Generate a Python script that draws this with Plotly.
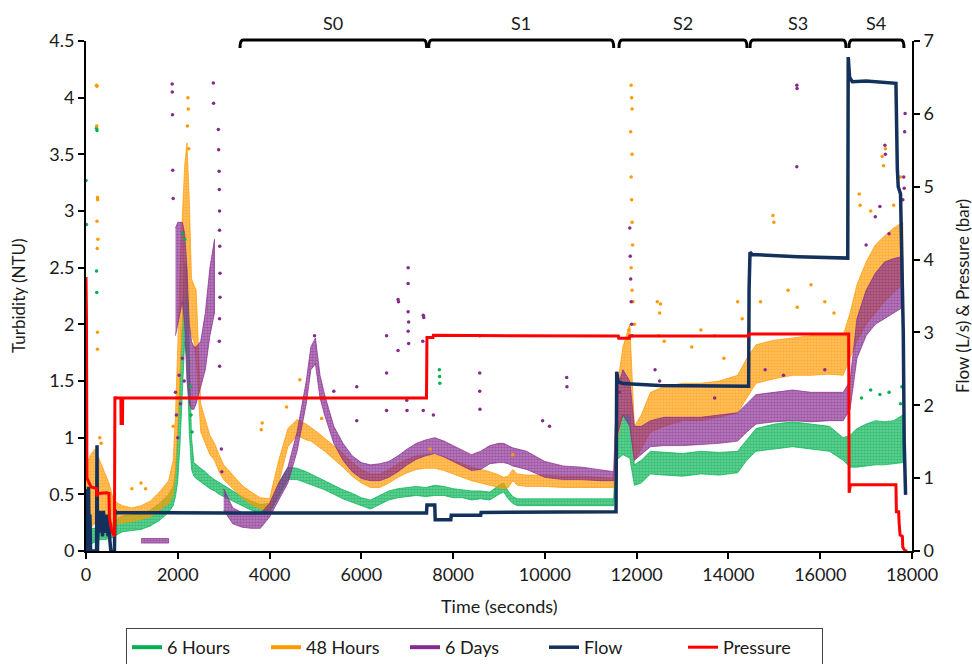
import plotly.graph_objects as go

# ---------------- data ----------------
# common time grid (s) for the turbidity bands
t_band = [0, 100, 200, 300, 400, 500, 600, 700, 800, 1000,
          1200, 1400, 1600, 1800, 1900, 1950, 2000, 2050, 2100, 2150,
          2200, 2250, 2300, 2350, 2400, 2500, 2600, 2700, 2800, 2900,
          3000, 3200, 3400, 3600, 3800, 4000, 4200, 4400, 4600, 4800,
          4900, 5000, 5100, 5200, 5400, 5600, 5800, 6000, 6200, 6400,
          6600, 6800, 7000, 7200, 7400, 7600, 7800, 8000, 8200, 8400,
          8600, 8800, 9000, 9100, 9200, 9300, 9400, 9600, 10000, 10400,
          10800, 11200, 11500, 11560, 11700, 11850, 11950, 12100, 12300, 12600,
          13000, 13400, 13800, 14200, 14400, 14600, 15000, 15400, 15800, 16200,
          16500, 16650, 16800, 17000, 17200, 17400, 17600, 17800]

# 6 Hours (NTU) lower / upper edge of the dot band
h6_lo = [0.03, 0.06, 0.08, 0.10, 0.10, 0.11, 0.12, 0.15, 0.17, 0.18,
         0.19, 0.22, 0.27, 0.34, 0.40, 0.48, 0.62, 0.95, 1.45, 1.85,
         1.70, 1.05, 0.72, 0.66, 0.64, 0.61, 0.58, 0.55, 0.53, 0.50,
         0.48, 0.44, 0.40, 0.36, 0.33, 0.34, 0.48, 0.63, 0.63, 0.60,
         0.59, 0.57, 0.56, 0.54, 0.50, 0.46, 0.43, 0.40, 0.37, 0.41,
         0.45, 0.47, 0.48, 0.49, 0.48, 0.49, 0.49, 0.47, 0.47, 0.45,
         0.46, 0.45, 0.50, 0.52, 0.46, 0.42, 0.40, 0.40, 0.40, 0.40,
         0.40, 0.40, 0.40, 0.80, 0.85, 0.82, 0.58, 0.60, 0.68, 0.67,
         0.66, 0.68, 0.67, 0.69, 0.80, 0.88, 0.90, 0.92, 0.90, 0.88,
         0.80, 0.74, 0.74, 0.75, 0.76, 0.76, 0.77, 0.78]
h6_hi = [0.22, 0.20, 0.20, 0.22, 0.21, 0.24, 0.25, 0.29, 0.31, 0.32,
         0.33, 0.36, 0.42, 0.50, 0.57, 0.70, 1.05, 1.55, 2.10, 2.55,
         2.50, 1.75, 1.00, 0.78, 0.76, 0.73, 0.70, 0.66, 0.63, 0.60,
         0.58, 0.53, 0.48, 0.44, 0.41, 0.42, 0.60, 0.74, 0.73, 0.70,
         0.68, 0.66, 0.64, 0.62, 0.58, 0.54, 0.51, 0.47, 0.45, 0.49,
         0.53, 0.55, 0.56, 0.57, 0.56, 0.58, 0.57, 0.55, 0.54, 0.53,
         0.53, 0.52, 0.58, 0.60, 0.53, 0.48, 0.46, 0.46, 0.46, 0.46,
         0.46, 0.46, 0.46, 1.10, 1.20, 1.20, 0.76, 0.80, 0.88, 0.87,
         0.86, 0.88, 0.87, 0.88, 0.98, 1.08, 1.12, 1.14, 1.12, 1.10,
         1.00, 1.02, 1.08, 1.12, 1.15, 1.14, 1.15, 1.20]

# 48 Hours (NTU)
h48_lo = [0.15, 0.20, 0.25, 0.30, 0.28, 0.25, 0.22, 0.24, 0.25, 0.26,
          0.28, 0.30, 0.36, 0.42, 0.50, 0.70, 1.10, 1.60, 2.00, 2.20,
          2.30, 2.00, 1.90, 1.85, 1.70, 1.05, 0.95, 0.85, 0.80, 0.70,
          0.63, 0.55, 0.47, 0.41, 0.37, 0.36, 0.60, 0.92, 1.02, 0.98,
          0.97, 0.94, 0.91, 0.88, 0.81, 0.74, 0.66, 0.60, 0.56, 0.56,
          0.60, 0.65, 0.69, 0.72, 0.73, 0.73, 0.71, 0.68, 0.65, 0.62,
          0.60, 0.58, 0.56, 0.55, 0.56, 0.62, 0.58, 0.57, 0.57, 0.56,
          0.56, 0.56, 0.56, 0.95, 1.20, 1.20, 0.80, 0.90, 1.05, 1.10,
          1.15, 1.15, 1.18, 1.22, 1.35, 1.48, 1.52, 1.55, 1.55, 1.56,
          1.55, 1.70, 1.85, 2.00, 2.10, 2.20, 2.28, 2.35]
h48_hi = [0.75, 0.85, 0.90, 0.80, 0.70, 0.60, 0.45, 0.42, 0.40, 0.38,
          0.40, 0.44, 0.52, 0.62, 0.80, 1.20, 1.80, 2.50, 3.00, 3.40,
          3.60, 3.10, 2.40, 2.35, 2.30, 1.30, 1.15, 1.02, 0.95, 0.85,
          0.76, 0.67, 0.58, 0.52, 0.47, 0.46, 0.80, 1.08, 1.16, 1.12,
          1.09, 1.06, 1.03, 1.00, 0.93, 0.86, 0.78, 0.72, 0.68, 0.68,
          0.72, 0.77, 0.81, 0.84, 0.85, 0.85, 0.83, 0.80, 0.77, 0.74,
          0.72, 0.70, 0.67, 0.65, 0.66, 0.72, 0.68, 0.67, 0.67, 0.66,
          0.66, 0.65, 0.64, 1.40, 1.80, 2.00, 1.10, 1.20, 1.40, 1.45,
          1.48, 1.48, 1.50, 1.55, 1.70, 1.82, 1.86, 1.88, 1.90, 1.90,
          1.90, 2.10, 2.35, 2.55, 2.70, 2.78, 2.85, 2.90]

# 6 Days (NTU); None = no band there
d6_lo = [None, None, None, None, None, None, None, None, None, None,
         0.07, 0.07, 0.07, 0.07, None, 1.90, 2.00, 2.10, 2.20, 2.00,
         1.50, 1.30, 1.25, 1.25, 1.30, 1.45, 1.60, 1.90, 2.10, None,
         0.36, 0.24, 0.21, 0.20, 0.20, 0.30, 0.45, 0.60, 0.88, 1.30,
         1.60, 1.65, 1.35, 1.20, 0.95, 0.80, 0.70, 0.64, 0.62, 0.62,
         0.65, 0.70, 0.76, 0.81, 0.84, 0.86, 0.83, 0.79, 0.75, 0.71,
         0.72, 0.77, 0.78, 0.78, 0.77, 0.75, 0.74, 0.72, 0.65, 0.63,
         0.63, 0.62, 0.62, 1.00, 1.20, 1.10, 0.80, 0.85, 0.92, 0.93,
         0.93, 0.94, 0.95, 0.97, 1.05, 1.12, 1.14, 1.15, 1.14, 1.15,
         1.15, 1.25, 1.70, 1.90, 2.00, 2.05, 2.10, 2.15]
d6_hi = [None, None, None, None, None, None, None, None, None, None,
         0.11, 0.11, 0.11, 0.11, None, 2.85, 2.90, 2.90, 2.90, 2.80,
         2.50, 2.00, 1.85, 1.80, 1.80, 1.85, 2.10, 2.50, 2.75, None,
         0.55, 0.38, 0.34, 0.32, 0.33, 0.42, 0.60, 0.74, 1.05, 1.50,
         1.80, 1.88, 1.55, 1.38, 1.10, 0.95, 0.84, 0.78, 0.76, 0.77,
         0.79, 0.84, 0.90, 0.95, 0.98, 1.00, 0.97, 0.93, 0.89, 0.85,
         0.88, 0.93, 0.95, 0.95, 0.93, 0.91, 0.90, 0.88, 0.79, 0.75,
         0.74, 0.72, 0.70, 1.40, 1.60, 1.50, 1.10, 1.10, 1.15, 1.18,
         1.18, 1.18, 1.20, 1.22, 1.30, 1.38, 1.40, 1.42, 1.40, 1.40,
         1.40, 1.50, 2.05, 2.30, 2.45, 2.55, 2.58, 2.60]

# scattered single readings outside the bands
h6_out_t = [0, 10, 230, 240, 230, 235, 2100, 2150, 2280, 2290, 2310,
            7700, 7705, 7710, 16900, 17100, 17300, 17500, 17750, 17780]
h6_out_v = [3.27, 2.88, 3.73, 3.71, 2.47, 2.28, 2.80, 2.75, 1.45, 1.20, 1.05,
            1.60, 1.54, 1.48, 1.35, 1.42, 1.38, 1.40, 1.30, 1.45]

h48_out_t = [230, 240, 235, 250, 255, 240, 260, 245, 250, 250, 300, 330,
             1000, 1200, 1300, 1900, 2220, 2230, 2210, 2240, 3820, 3840,
             4370, 4660, 5135, 7500, 9300,
             11880, 11890, 11900, 11870, 11900, 11880, 11890, 11900, 11910,
             11880, 11900, 11920, 11950, 11830, 12450, 12500, 12520, 12480,
             12600, 13200, 13400, 13700, 13900, 14200, 14300,
             14700, 14970, 14990, 15300, 15500, 15800, 16100, 16300,
             16850, 16870, 17100, 17350, 17380, 17420, 17600, 17750]
h48_out_v = [4.11, 4.10, 3.75, 3.12, 3.10, 2.91, 2.75, 2.67, 1.93, 1.78, 1.00, 0.95,
             0.55, 0.60, 0.55, 1.10, 4.00, 3.90, 3.75, 3.55, 1.07, 1.13,
             1.27, 1.51, 1.17, 0.90, 0.85,
             4.11, 4.00, 3.90, 3.70, 3.50, 3.30, 3.10, 2.90, 2.70,
             2.50, 2.30, 2.20, 2.00, 1.95, 2.20, 2.10, 2.18, 1.90,
             1.85, 1.80, 1.95, 1.90, 1.70, 2.20, 2.05,
             2.20, 2.96, 2.90, 2.30, 2.15, 2.35, 2.20, 2.10,
             3.15, 3.05, 3.00, 3.48, 3.40, 3.55, 3.05, 3.30]

d6_out_t = [1878, 1880, 1885, 1890, 1900, 1950, 1970, 2000, 2030, 2060, 2100, 2140,
            2775, 2780, 2884, 2890, 2900, 2905, 2910, 2910, 2915, 2920, 2920,
            2910, 2905, 2912, 2950, 2960,
            4980, 5400, 5900, 5900, 6550, 6550, 6550, 6800, 6810, 6800,
            7020, 7020, 7020, 7030, 7020, 7030, 6990, 6995, 7350, 7360, 7340, 7350, 7570,
            8580, 8580, 8580, 8585, 9950, 10100, 10475, 10480,
            11850, 11860, 11870, 11880, 11890, 11900, 11620, 12400, 12500, 13700,
            15490, 15495, 15490, 14800, 15200, 16100,
            17000, 17200, 17300, 17410, 17420, 17500, 17800, 17820, 17830, 17840, 17850]
d6_out_v = [4.12, 4.05, 3.85, 3.36, 3.11, 1.40, 1.20, 1.00, 1.55, 1.30, 1.70, 1.50,
            4.13, 3.95, 3.72, 3.54, 3.35, 3.19, 3.00, 2.83, 2.69, 2.45, 2.24,
            2.05, 1.85, 1.63, 0.90, 0.70,
            1.90, 1.41, 1.45, 1.15, 1.90, 1.57, 1.24, 2.22, 2.20, 1.77,
            2.50, 2.36, 2.11, 2.02, 1.94, 1.83, 1.33, 1.24, 2.08, 2.06, 1.85, 1.24, 1.20,
            1.90, 1.57, 1.41, 1.25, 1.15, 1.10, 1.53, 1.45,
            2.85, 2.60, 2.40, 2.20, 2.00, 1.90, 1.40, 1.60, 1.50, 1.35,
            4.11, 4.08, 3.39, 1.60, 1.55, 1.60,
            2.70, 2.95, 3.04, 3.58, 3.50, 2.80, 3.10, 3.30, 3.20, 3.70, 3.86]

# Flow (L/s), right axis
flow_t = [0, 15, 25, 40, 55, 70, 85, 100, 120, 230,
          240, 250, 265, 280, 300, 320, 340, 360, 380, 400,
          420, 440, 460, 480, 500, 520, 540, 620, 630, 650,
          3000, 7420, 7430, 7600, 7610, 7950, 7960, 8600, 8610, 11550,
          11565, 11600, 11700, 12500, 14440, 14450, 14470, 14520, 15500, 16600,
          16610, 16640, 16700, 17000, 17650, 17680, 17700, 17750, 17790, 17810,
          17830, 17860]
flow_v = [0.85, 0.00, 0.80, 0.10, 0.88, 0.00, 0.50, 0.00, 0.00, 0.00,
          1.45, 0.00, 0.50, 0.25, 0.55, 0.30, 0.45, 0.20, 0.55, 0.25,
          0.45, 0.30, 0.50, 0.20, 0.35, 0.15, 0.00, 0.00, 0.56, 0.53,
          0.52, 0.52, 0.63, 0.63, 0.43, 0.43, 0.49, 0.49, 0.53, 0.54,
          2.46, 2.32, 2.30, 2.27, 2.26, 3.60, 4.10, 4.07, 4.04, 4.02,
          6.78, 6.50, 6.44, 6.45, 6.42, 5.25, 5.00, 4.90, 3.70, 3.00,
          1.50, 0.77]

# Pressure (bar), right axis
pres_t = [0, 10, 20, 60, 110, 230, 235, 260, 450, 500,
          510, 560, 620, 630, 640, 760, 765, 795, 800, 7420,
          7430, 7560, 7570, 11600, 11610, 11840, 11850, 14440, 14450, 16620,
          16630, 16660, 17650, 17660, 17710, 17720, 17740, 17790, 17800, 17850,
          17900]
pres_v = [3.76, 3.20, 1.00, 0.95, 0.88, 0.86, 0.75, 0.79, 0.80, 0.79,
          0.45, 0.28, 0.20, 2.12, 2.10, 2.10, 1.75, 1.75, 2.10, 2.10,
          2.93, 2.93, 2.96, 2.95, 2.92, 2.92, 2.95, 2.95, 2.98, 2.98,
          0.80, 0.91, 0.91, 0.54, 0.54, 0.38, 0.22, 0.20, 0.05, 0.00,
          0.00]

# test stages shown as brackets above the plot
stage_names = ["S0", "S1", "S2", "S3", "S4"]
stage_start = [3356, 7468, 11615, 14470, 16627]
stage_end = [7424, 11500, 14404, 16562, 17825]

series_names = ["6 Hours", "48 Hours", "6 Days", "Flow", "Pressure"]
x_ticks = [0, 2000, 4000, 6000, 8000, 10000, 12000, 14000, 16000, 18000]

for a, b in [(h6_lo, h6_hi), (h48_lo, h48_hi), (d6_lo, d6_hi)]:
    assert len(a) == len(t_band) and len(b) == len(t_band)
assert len(h6_out_t) == len(h6_out_v)
assert len(h48_out_t) == len(h48_out_v)
assert len(d6_out_t) == len(d6_out_v)
assert len(flow_t) == len(flow_v)
assert len(pres_t) == len(pres_v)

# ---------------- styling ----------------
C_G = "#00B050"
C_O = "#FF9900"
C_P = "#862A8E"
C_F = "#13315C"
C_R = "#FF0000"
FONT = "Lato"
TXT = "#1a1a1a"


def rgba(hexc, a):
    h = hexc.lstrip("#")
    return "rgba(%d,%d,%d,%.2f)" % (int(h[0:2], 16), int(h[2:4], 16), int(h[4:6], 16), a)


def band_polys(t, lo, hi):
    segs, cur = [], []
    for ti, l, h in zip(t, lo, hi):
        if l is None or h is None:
            if cur:
                segs.append(cur)
            cur = []
        else:
            cur.append((ti, l, h))
    if cur:
        segs.append(cur)
    xs, ys = [], []
    for s in segs:
        xs += [p[0] for p in s] + [p[0] for p in reversed(s)] + [None]
        ys += [p[1] for p in s] + [p[2] for p in reversed(s)] + [None]
    return xs, ys


fig = go.Figure()

for lo, hi, col in [(h6_lo, h6_hi, C_G), (h48_lo, h48_hi, C_O), (d6_lo, d6_hi, C_P)]:
    bx, by = band_polys(t_band, lo, hi)
    fig.add_trace(go.Scatter(x=bx, y=by, mode="lines", fill="toself",
                             fillcolor=rgba(col, 0.6),
                             fillpattern=dict(shape=".", fgcolor=col, bgcolor=rgba(col, 0.58),
                                              size=3, solidity=0.6),
                             line=dict(color=rgba(col, 0.7), width=1),
                             showlegend=False, hoverinfo="skip"))

for ot, ov, col in [(h6_out_t, h6_out_v, C_G), (h48_out_t, h48_out_v, C_O), (d6_out_t, d6_out_v, C_P)]:
    fig.add_trace(go.Scatter(x=ot, y=ov, mode="markers",
                             marker=dict(color=col, size=3.5, line=dict(width=0)),
                             showlegend=False, hoverinfo="skip"))

# legend entries for the dot series
for name, col, rank in [(series_names[0], C_G, 1), (series_names[1], C_O, 2), (series_names[2], C_P, 3)]:
    fig.add_trace(go.Scatter(x=[None], y=[None], mode="lines", name=name,
                             line=dict(color=col, width=4), legendrank=rank))

fig.add_trace(go.Scatter(x=flow_t, y=flow_v, mode="lines", name=series_names[3], yaxis="y2",
                         line=dict(color=C_F, width=3.5), legendrank=4))
fig.add_trace(go.Scatter(x=pres_t, y=pres_v, mode="lines", name=series_names[4], yaxis="y2",
                         line=dict(color=C_R, width=3), legendrank=5))

# brackets for the stages
PLOT_H = 510
yt = 1.0 + 1.0 / PLOT_H
yb = 1.0 - 7.0 / PLOT_H
dx = 70
shapes = []
annotations = []
for nm, s0, s1 in zip(stage_names, stage_start, stage_end):
    path = "M %g,%g Q %g,%g %g,%g L %g,%g Q %g,%g %g,%g" % (
        s0, yb, s0, yt, s0 + dx, yt, s1 - dx, yt, s1, yt, s1, yb)
    shapes.append(dict(type="path", path=path, xref="x", yref="paper",
                       line=dict(color="black", width=3)))
    annotations.append(dict(x=(s0 + s1) / 2, y=1, xref="x", yref="paper", text=nm,
                            showarrow=False, yshift=18, yanchor="middle",
                            font=dict(family=FONT, size=18, color=TXT)))

annotations.append(dict(x=0, y=0.5, xref="paper", yref="paper", text="Turbidity (NTU)",
                        textangle=-90, showarrow=False, xshift=-68, xanchor="center",
                        yanchor="middle", font=dict(family=FONT, size=17, color=TXT)))
annotations.append(dict(x=1, y=0.5, xref="paper", yref="paper", text="Flow (L/s) & Pressure (bar)",
                        textangle=-90, showarrow=False, xshift=50, xanchor="center",
                        yanchor="middle", font=dict(family=FONT, size=17, color=TXT)))
annotations.append(dict(x=0.5, y=0, xref="paper", yref="paper", text="Time (seconds)",
                        showarrow=False, yshift=-55, xanchor="center",
                        yanchor="middle", font=dict(family=FONT, size=18, color=TXT)))

axis_common = dict(showgrid=False, zeroline=False, showline=True, linecolor="black", linewidth=2,
                   ticks="outside", ticklen=6, tickwidth=2, tickcolor="black",
                   tickfont=dict(family=FONT, size=18, color=TXT))

fig.update_layout(
    width=972, height=664,
    margin=dict(l=86, r=60, t=41, b=113, autoexpand=False),
    paper_bgcolor="white", plot_bgcolor="white",
    font=dict(family=FONT, size=18, color=TXT),
    xaxis=dict(range=[0, 18000], tickvals=x_ticks, ticktext=[str(v) for v in x_ticks], **axis_common),
    yaxis=dict(range=[0, 4.5], dtick=0.5, tick0=0, **axis_common),
    yaxis2=dict(range=[0, 7], dtick=1, tick0=0, overlaying="y", side="right", **axis_common),
    shapes=shapes,
    annotations=annotations,
    showlegend=True,
    legend=dict(orientation="h", x=40 / 826, xanchor="left", y=-77 / 510, yanchor="top",
                bordercolor="#444", borderwidth=1, bgcolor="white",
                font=dict(family=FONT, size=18, color=TXT), itemwidth=30,
                entrywidth=94, entrywidthmode="pixels"),
)

fig.write_html("out.html")
